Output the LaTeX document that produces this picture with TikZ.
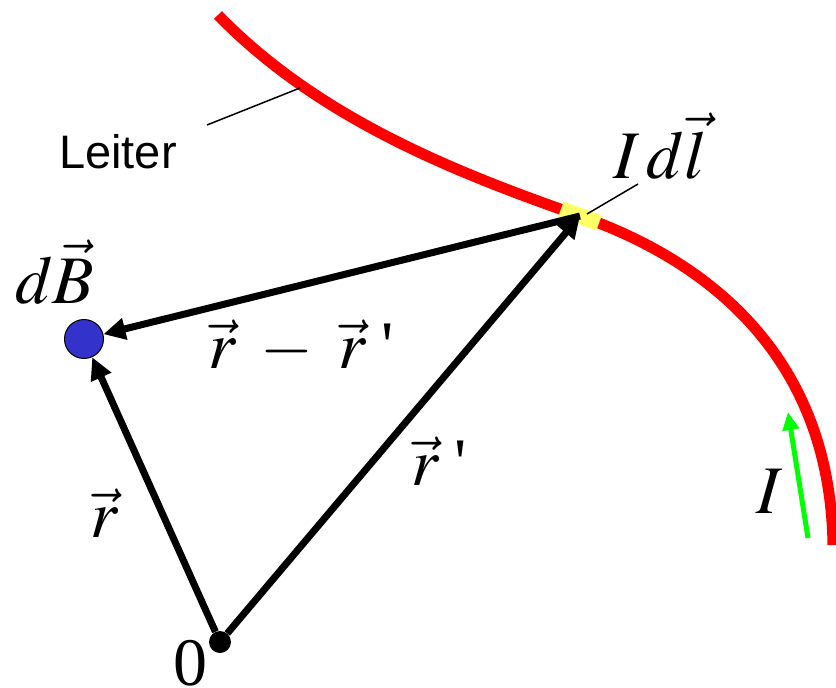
\documentclass[tikz,border=0pt]{standalone}
\usepackage{mathptmx}
\usepackage[no-math]{fontspec}
\setmainfont{Liberation Serif}
\setsansfont{Liberation Sans}
\usepackage{tikz}
\usetikzlibrary{arrows.meta}
\definecolor{elemyellow}{RGB}{255,255,102}
\definecolor{pointblue}{RGB}{51,51,204}

\begin{document}
\begin{tikzpicture}[x=1pt,y=-1pt]
    % Styles for wire, vectors and labels
    \tikzset{
      wire/.style={red, line width=11pt},
      vecarrow/.style={line width=7pt, -{Triangle[length=22pt,width=21pt]}},
      current/.style={green, line width=5pt, -{Triangle[length=18pt,width=16pt]}},
      leader/.style={black, line width=1.5pt},
      lbl/.style={inner sep=0pt, anchor=base, font=\fontsize{68}{76}\selectfont}
    }
    \useasboundingbox (0,0) rectangle (836,688);

    % Conductor with current element
    \coordinate (S) at (580,216);
    \draw[wire] (218,15) .. controls (320,120) and (460,174) .. (S)
                         .. controls (700,258) and (830,350) .. (833,545);
    \draw[elemyellow, line width=16pt] (561,209) -- (599,223);

    % Points
    \node[circle, fill=black, inner sep=0pt, minimum size=22pt] (O) at (220,642) {};
    \node[circle, draw=black, line width=1pt, fill=pointblue, inner sep=0pt, minimum size=39pt] (P) at (84,339) {};

    % Vectors
    \draw[vecarrow] (O) -- (P);
    \draw[vecarrow] (O) -- (S);
    \draw[vecarrow] (S) -- (P);

    % Current direction
    \coordinate (Itail) at (808,538);
    \coordinate (Ihead) at (788,412);
    \draw[current] (Itail) -- (Ihead);

    % Labels
    \node[lbl] (dB) at (55,303) {$d\vec{B}$};
    \node[lbl] (Idl) at (660,178) {$I\,d\vec{l}$};
    \node[lbl] (rdiff) at (301,368) {$\vec{r}\;-\;\vec{r}\;$\textquotesingle};
    \node[lbl] (rprime) at (439,485) {$\vec{r}\;$\textquotesingle};
    \node[lbl] (r) at (105,537) {$\vec{r}$};
    \node[lbl] (zero) at (190,685) {0};
    \node[lbl] (Ilbl) at (770,513) {$I$};
    \node[inner sep=0pt, anchor=base, font=\sffamily\fontsize{47}{56}\selectfont] (leiter) at (118,168) {Leiter};

    % Leader lines
    \coordinate (leiterA) at (207,125);
    \coordinate (leiterB) at (300,88);
    \draw[leader] (leiterA) -- (leiterB);
    \coordinate (idlA) at (638,184);
    \coordinate (idlB) at (587,214);
    \draw[leader] (idlA) -- (idlB);

\end{tikzpicture}
\end{document}
